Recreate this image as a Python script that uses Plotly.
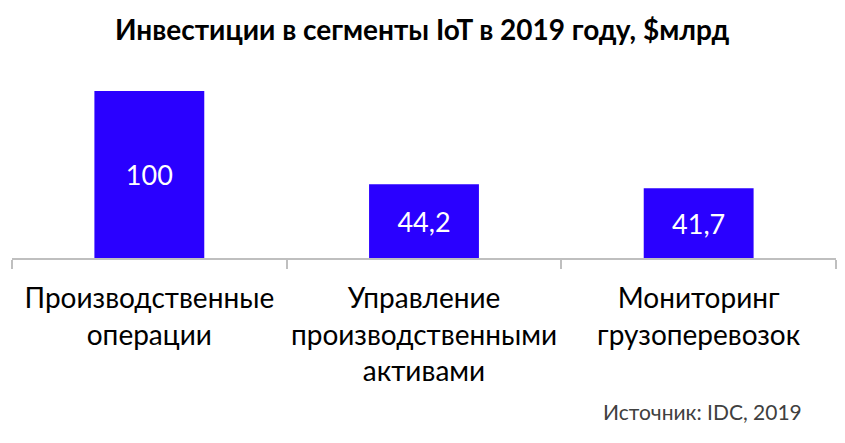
import plotly.graph_objects as go

# IoT investments by segment, 2019
categories = ["Производственные<br>операции",
              "Управление<br>производственными<br>активами",
              "Мониторинг<br>грузоперевозок"]
values = [100, 44.2, 41.7]
value_labels = ["100", "44,2", "41,7"]

fig = go.Figure()
fig.add_trace(go.Bar(
    x=categories, y=values,
    text=value_labels, textposition="inside", insidetextanchor="middle",
    textfont=dict(color="white", size=27, family="Lato"),
    marker=dict(color="#2A00FF", line=dict(width=0)),
    width=0.4,
))

fig.update_layout(
    width=845, height=443,
    paper_bgcolor="white", plot_bgcolor="white",
    margin=dict(l=4, r=17, t=83, b=193, autoexpand=False),
    showlegend=False,
    title=dict(text="<b>Инвестиции в сегменты IoT в 2019 году, $млрд</b>",
               x=0.49, xanchor="center", y=0.95, yanchor="middle",
               font=dict(family="Lato", size=28, color="black")),
    font=dict(family="Lato"),
)
fig.update_xaxes(
    showline=True, linecolor="#BFBFBF", linewidth=1.5,
    ticks="outside", ticklen=9, tickcolor="#BFBFBF", tickwidth=1.5,
    tickson="boundaries", tickangle=0, ticklabelstandoff=15,
    tickfont=dict(size=28, color="black", family="Lato"),
    showgrid=False, automargin=False,
)
fig.update_yaxes(visible=False, range=[0, 100])

fig.add_annotation(text="Источник: IDC, 2019", xref="paper", yref="paper",
                   x=0.961, y=-0.92, xanchor="right", yanchor="middle",
                   showarrow=False, font=dict(size=21, color="#404040", family="Lato"))

fig.write_html("out.html")
